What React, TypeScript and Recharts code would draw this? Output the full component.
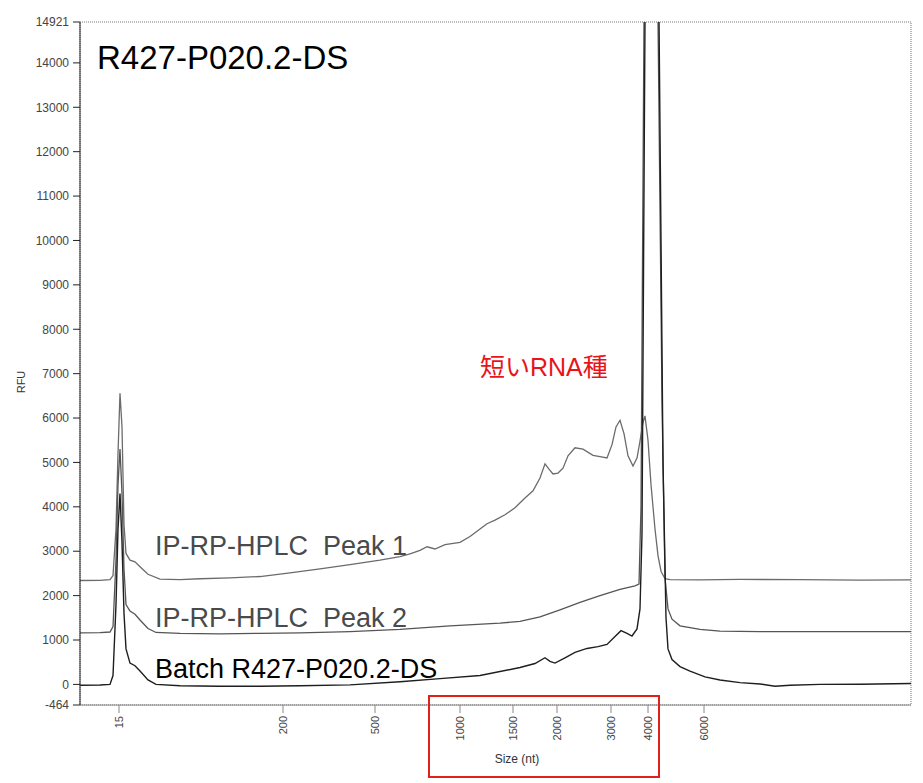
import React from "react";
import { Line, LineChart, ReferenceArea, XAxis, YAxis } from "recharts";

// migration position (ladder scale is non-linear, so sizes are placed as tick labels)
const sizeTickPos = [39, 203, 295, 380, 433, 477, 531, 568, 624];
const sizeTickLabels = ["15", "200", "500", "1000", "1500", "2000", "3000", "4000", "6000"];
const rfuTicks = [-464, 0, 1000, 2000, 3000, 4000, 5000, 6000, 7000, 8000, 9000, 10000, 11000, 12000, 13000, 14000, 14921];

const peak1Mig = [0, 20, 30, 33, 36, 38, 40, 42, 44, 46, 50, 55, 60, 68, 80, 100, 120, 150, 180, 210, 240, 270, 300, 320, 330, 340, 347, 355, 365, 380, 390, 400, 407, 415, 425, 435, 445, 453, 460, 465, 469, 473, 478, 483, 488, 495, 503, 513, 520, 527, 532, 536, 540, 544, 548, 553, 557, 560, 563, 565, 568, 571, 575, 578, 581, 585, 590, 620, 660, 720, 780, 831];
const peak1Rfu = [2340, 2345, 2360, 2450, 3500, 5200, 6560, 5800, 3600, 2950, 2800, 2760, 2650, 2480, 2370, 2360, 2380, 2400, 2430, 2510, 2600, 2700, 2800, 2880, 2940, 3020, 3100, 3050, 3150, 3200, 3330, 3500, 3620, 3700, 3820, 3980, 4200, 4360, 4650, 4970, 4850, 4740, 4760, 4870, 5150, 5330, 5300, 5160, 5130, 5100, 5400, 5800, 5950, 5650, 5150, 4920, 5100, 5480, 5900, 6050, 5500, 4500, 3500, 2900, 2550, 2380, 2360, 2355, 2365, 2360, 2350, 2355];

const peak2Mig = [0, 20, 30, 33, 36, 38, 40, 42, 44, 46, 50, 55, 60, 68, 76, 100, 140, 180, 220, 270, 320, 370, 420, 440, 460, 480, 500, 520, 540, 555, 559, 561, 564, 570, 576, 578, 582, 585, 588, 592, 600, 620, 640, 680, 740, 831];
const peak2Rfu = [1160, 1165, 1180, 1300, 2800, 4500, 5300, 4300, 2600, 1800, 1650, 1580, 1450, 1260, 1170, 1150, 1140, 1150, 1160, 1190, 1240, 1320, 1380, 1420, 1520, 1680, 1850, 2000, 2140, 2220, 2260, 4000, 15000, 40000, 40000, 15000, 6400, 2400, 1700, 1470, 1320, 1240, 1200, 1190, 1190, 1190];

const batchMig = [0, 20, 30, 33, 36, 38, 40, 42, 44, 46, 50, 55, 60, 68, 76, 100, 140, 180, 220, 270, 320, 360, 400, 440, 455, 465, 470, 475, 485, 495, 507, 518, 527, 535, 541, 547, 552, 557, 560, 562, 565, 571, 577, 579, 583, 586, 588, 592, 600, 610, 625, 640, 660, 680, 695, 710, 740, 780, 831];
const batchRfu = [-20, -15, 0, 200, 1800, 3500, 4300, 3200, 1600, 800, 480, 420, 300, 100, 0, -30, -40, -40, -30, -10, 60, 130, 200, 380, 470, 600, 520, 480, 600, 720, 810, 850, 900, 1080, 1210, 1150, 1090, 1250, 1700, 3400, 15000, 40000, 40000, 15000, 5000, 1500, 800, 560, 400, 300, 170, 100, 40, 10, -40, -20, 0, 5, 20];

const toRows = (mig: number[], rfu: number[]) => mig.map((m, i) => ({ mig: m, rfu: rfu[i] }));

const peak1 = toRows(peak1Mig, peak1Rfu);
const peak2 = toRows(peak2Mig, peak2Rfu);
const batch = toRows(batchMig, batchRfu);

const FONT = '"Liberation Sans", Arial, sans-serif';

function SizeTick(props: any) {
  const { x, y, payload, index } = props;
  return (
    <g transform={`translate(${x},${y})`}>
      <text
        transform="rotate(-90)"
        textAnchor="end"
        dy="0.35em"
        fill="#444"
        fontSize={11}
        fontFamily={FONT}
      >
        {sizeTickLabels[index] ?? payload.value}
      </text>
    </g>
  );
}

export default function App() {
  return (
    <div style={{ position: "absolute", left: 0, top: 0, width: 923, height: 783, background: "#fff" }}>
      <LineChart width={923} height={783} margin={{ top: 22, right: 12, bottom: 0, left: 0 }}>
        <XAxis
          dataKey="mig"
          type="number"
          domain={[0, 831]}
          ticks={sizeTickPos}
          tick={<SizeTick />}
          tickSize={8}
          tickMargin={3}
          height={78}
          stroke="#888"
          allowDataOverflow
        />
        <YAxis
          type="number"
          domain={[-464, 14921]}
          ticks={rfuTicks}
          interval={0}
          width={80}
          tickSize={7}
          tickMargin={4}
          stroke="#222"
          tick={{ fill: "#444", fontSize: 12, fontFamily: FONT }}
          allowDataOverflow
        />
        <ReferenceArea x1={0} x2={831} y1={-464} y2={14921} fill="none" stroke="#777" strokeDasharray="1 1" ifOverflow="visible" />
        <Line data={peak1} dataKey="rfu" type="linear" stroke="#6b6b6b" strokeWidth={1.3} dot={false} isAnimationActive={false} />
        <Line data={peak2} dataKey="rfu" type="linear" stroke="#555" strokeWidth={1.3} dot={false} isAnimationActive={false} />
        <Line data={batch} dataKey="rfu" type="linear" stroke="#1e1e1e" strokeWidth={1.4} dot={false} isAnimationActive={false} />
      </LineChart>
      <svg width={923} height={783} style={{ position: "absolute", left: 0, top: 0, pointerEvents: "none" }}>
        <text x={97} y={69} fontSize={33} fontFamily={FONT} fill="#000">R427-P020.2-DS</text>
        <text x={155} y={555} fontSize={27} fontFamily={FONT} fill="#4a4a4a">{"IP-RP-HPLC\u00a0 Peak 1"}</text>
        <text x={155} y={627} fontSize={27} fontFamily={FONT} fill="#4a4a4a">{"IP-RP-HPLC\u00a0 Peak 2"}</text>
        <text x={155} y={678} fontSize={27} fontFamily={FONT} fill="#000">Batch R427-P020.2-DS</text>
        <text x={480} y={376} fontSize={25} fontFamily='"Liberation Sans", "Noto Sans CJK JP", sans-serif' fill="#e8141a">短いRNA種</text>
        <text x={517} y={763} fontSize={12} fontFamily={FONT} fill="#333" textAnchor="middle">Size (nt)</text>
        <text x={25} y={382} fontSize={11} fontFamily={FONT} fill="#333" textAnchor="middle" transform="rotate(-90 25 382)">RFU</text>
        <rect x={429} y={696} width={230} height={81} fill="none" stroke="#e0201b" strokeWidth={2} />
      </svg>
    </div>
  );
}
